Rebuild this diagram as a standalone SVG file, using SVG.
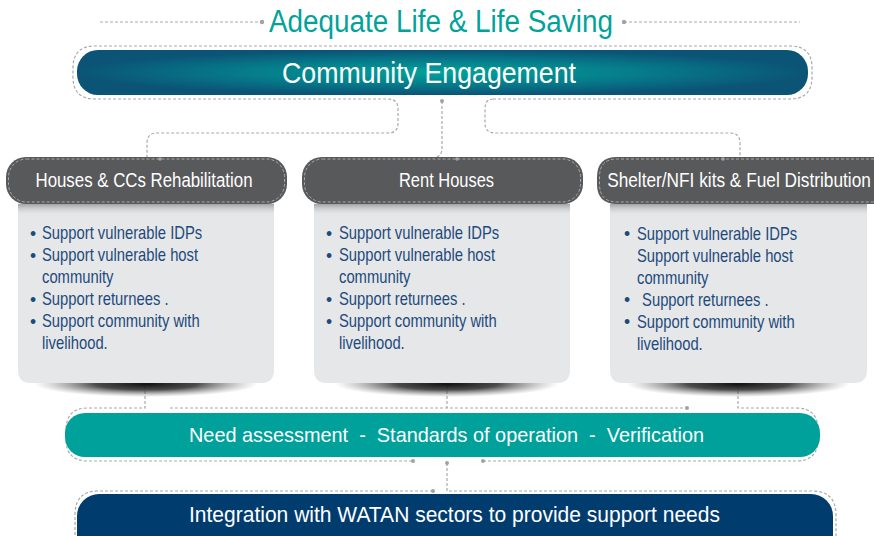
<svg xmlns="http://www.w3.org/2000/svg" width="874" height="536" viewBox="0 0 874 536">
<defs>
<radialGradient id="ceGrad" cx="0.5" cy="0.5" r="0.5">
<stop offset="0" stop-color="#00a39b"/>
<stop offset="0.55" stop-color="#067b8a"/>
<stop offset="1" stop-color="#0b5476"/>
</radialGradient>
<radialGradient id="shadow" cx="0.5" cy="0.5" r="0.5">
<stop offset="0" stop-color="#111" stop-opacity="1"/>
<stop offset="0.45" stop-color="#2a2a2a" stop-opacity="0.85"/>
<stop offset="1" stop-color="#777" stop-opacity="0"/>
</radialGradient>
<linearGradient id="hdrShadow" x1="0" y1="0" x2="0" y2="1">
<stop offset="0" stop-color="#9a9b9d" stop-opacity="0.9"/>
<stop offset="1" stop-color="#e6e7e8" stop-opacity="0"/>
</linearGradient>
</defs>
<style>
.dash{fill:none;stroke:#a7a9ac;stroke-width:1.2;stroke-dasharray:3 2}
.dot{fill:#a0a2a5}
.hdr{fill:#58595b}
.hdrline{fill:none;stroke:#a9aaac;stroke-width:1;stroke-dasharray:3 2}
.body{fill:#e6e7e8}
.hdrtxt{font-family:"Liberation Sans",Arial,sans-serif;font-size:19.5px;fill:#ffffff;text-anchor:middle}
.blt{font-family:"Liberation Sans",Arial,sans-serif;font-size:17.5px;fill:#1d4a7c}
.big{font-family:"Liberation Sans",Arial,sans-serif;fill:#ffffff;text-anchor:middle;white-space:pre}
</style>

<g id="connectors">
<path class="dash" stroke-dasharray="1.5 1.5" d="M100,22 H262"/>
<circle class="dot" cx="262" cy="22" r="2.2"/>
<path class="dash" stroke-dasharray="1.5 1.5" d="M624,22 H800"/>
<circle class="dot" cx="624" cy="22" r="2.2"/>
<path class="dash" d="M493,99 H790 Q812,99 812,77 V68 Q812,46 790,46 H95 Q73,46 73,68 V77 Q73,99 95,99 H388 Q398,99 398,109 V123 Q398,133 388,133 H157 Q147,133 147,143 V157"/>
<path class="dash" d="M493,99 Q485,99 485,109 V123 Q485,133 495,133 H730 Q740,133 740,143 V157"/>
<path class="dash" d="M442,101 V148 Q442,157 433,158"/>
<circle class="dot" cx="442" cy="101" r="2"/>
<path class="dash" d="M145,381 V408 H88 Q66,408 66,430 V439 Q66,461 88,461 H413"/>
<circle class="dot" cx="145" cy="381" r="2"/>
<circle class="dot" cx="413" cy="461" r="2"/>
<path class="dash" d="M170,408 H687"/>
<circle class="dot" cx="687" cy="408" r="2"/>
<path class="dash" d="M447,381 V408"/>
<circle class="dot" cx="447" cy="381" r="2"/>
<path class="dash" d="M738,381 V408 H796 Q818,408 818,430 V439 Q818,461 796,461 H483"/>
<circle class="dot" cx="738" cy="381" r="2"/>
<circle class="dot" cx="483" cy="461" r="2"/>
<path class="dash" d="M447,463 V491 H812 Q836,491 836,515 V536"/>
<circle class="dot" cx="447" cy="463" r="2"/>
<path class="dash" d="M433,491 H98 Q75,491 75,515 V536"/>
<circle class="dot" cx="433" cy="491" r="2"/>
</g>

<g id="title">
<text x="441" y="32" font-family="Liberation Sans, Arial, sans-serif" font-size="31" fill="#00a39a" text-anchor="middle" textLength="344" lengthAdjust="spacingAndGlyphs">Adequate Life &amp; Life Saving</text>
</g>

<g id="community">
<rect x="77" y="50" width="731" height="45" rx="21" fill="url(#ceGrad)"/>
<text class="big" x="429" y="83" font-size="29" textLength="294" lengthAdjust="spacingAndGlyphs">Community Engagement</text>
</g>

<g id="box-houses">
<ellipse cx="146" cy="384" rx="112" ry="13" fill="url(#shadow)"/>
<path class="body" d="M18,195 H274 V370 Q274,383 261,383 H31 Q18,383 18,370 Z"/>
<rect x="18" y="204" width="256" height="12" fill="url(#hdrShadow)"/>
<rect class="hdr" x="6" y="157" width="281" height="47" rx="20"/>
<rect class="hdrline" x="8.5" y="159" width="276" height="43" rx="18"/>
<circle class="dot" cx="160" cy="159" r="1.8"/>
<text class="hdrtxt" x="144" y="187" textLength="217" lengthAdjust="spacingAndGlyphs">Houses &amp; CCs Rehabilitation</text>
<g class="blt">
<text x="30" y="239.5">•</text>
<text x="30" y="261.5">•</text>
<text x="30" y="305.5">•</text>
<text x="30" y="327.5">•</text>
</g>
<g transform="translate(42,0) scale(0.845,1)">
<text class="blt" x="0" y="239.5">Support vulnerable IDPs</text>
<text class="blt" x="0" y="261.5">Support vulnerable host</text>
<text class="blt" x="0" y="283.5">community</text>
<text class="blt" x="0" y="305.5">Support returnees .</text>
<text class="blt" x="0" y="327.5">Support community with</text>
<text class="blt" x="0" y="349.5">livelihood.</text>
</g>
</g>

<g id="box-rent">
<ellipse cx="447" cy="384" rx="112" ry="13" fill="url(#shadow)"/>
<path class="body" d="M314,195 H570 V370 Q570,383 557,383 H327 Q314,383 314,370 Z"/>
<rect x="314" y="204" width="256" height="12" fill="url(#hdrShadow)"/>
<rect class="hdr" x="302" y="157" width="281" height="47" rx="20"/>
<rect class="hdrline" x="304.5" y="159" width="276" height="43" rx="18"/>
<circle class="dot" cx="457" cy="159" r="1.8"/>
<text class="hdrtxt" x="446.5" y="187" textLength="95" lengthAdjust="spacingAndGlyphs">Rent Houses</text>
<g class="blt">
<text x="326" y="239.5">•</text>
<text x="326" y="261.5">•</text>
<text x="326" y="305.5">•</text>
<text x="326" y="327.5">•</text>
</g>
<g transform="translate(339,0) scale(0.845,1)">
<text class="blt" x="0" y="239.5">Support vulnerable IDPs</text>
<text class="blt" x="0" y="261.5">Support vulnerable host</text>
<text class="blt" x="0" y="283.5">community</text>
<text class="blt" x="0" y="305.5">Support returnees .</text>
<text class="blt" x="0" y="327.5">Support community with</text>
<text class="blt" x="0" y="349.5">livelihood.</text>
</g>
</g>

<g id="box-shelter">
<ellipse cx="738" cy="384" rx="112" ry="13" fill="url(#shadow)"/>
<path class="body" d="M610,195 H867 V370 Q867,383 854,383 H623 Q610,383 610,370 Z"/>
<rect x="610" y="204" width="257" height="12" fill="url(#hdrShadow)"/>
<path class="hdr" d="M617,157 H874 V204 H617 Q597,204 597,184 V177 Q597,157 617,157 Z"/>
<path class="hdrline" d="M874,159 H617 Q599.5,159 599.5,177 V184 Q599.5,202 617,202 H874"/>
<circle class="dot" cx="723" cy="159" r="1.8"/>
<text class="hdrtxt" transform="translate(739,187) scale(0.885,1)" x="0" y="0">Shelter/NFI kits &amp; Fuel Distribution</text>
<g class="blt">
<text x="624" y="240">•</text>
<text x="624" y="306">•</text>
<text x="624" y="328">•</text>
</g>
<g transform="translate(637,0) scale(0.845,1)">
<text class="blt" x="0" y="240">Support vulnerable IDPs</text>
<text class="blt" x="0" y="262">Support vulnerable host</text>
<text class="blt" x="0" y="284">community</text>
<text class="blt" x="6" y="306">Support returnees .</text>
<text class="blt" x="0" y="328">Support community with</text>
<text class="blt" x="0" y="350">livelihood.</text>
</g>
</g>

<g id="need">
<rect x="65" y="413" width="755" height="44" rx="20" fill="#00a19a"/>
<text class="big" x="446.5" y="442" font-size="21" textLength="515" lengthAdjust="spacingAndGlyphs">Need assessment  -  Standards of operation  -  Verification</text>
</g>

<g id="watan">
<rect x="77" y="494" width="756" height="70" rx="22" fill="#013c6e"/>
<text class="big" x="454.5" y="522" font-size="22" textLength="531" lengthAdjust="spacingAndGlyphs">Integration with WATAN sectors to provide support needs</text>
</g>
</svg>
